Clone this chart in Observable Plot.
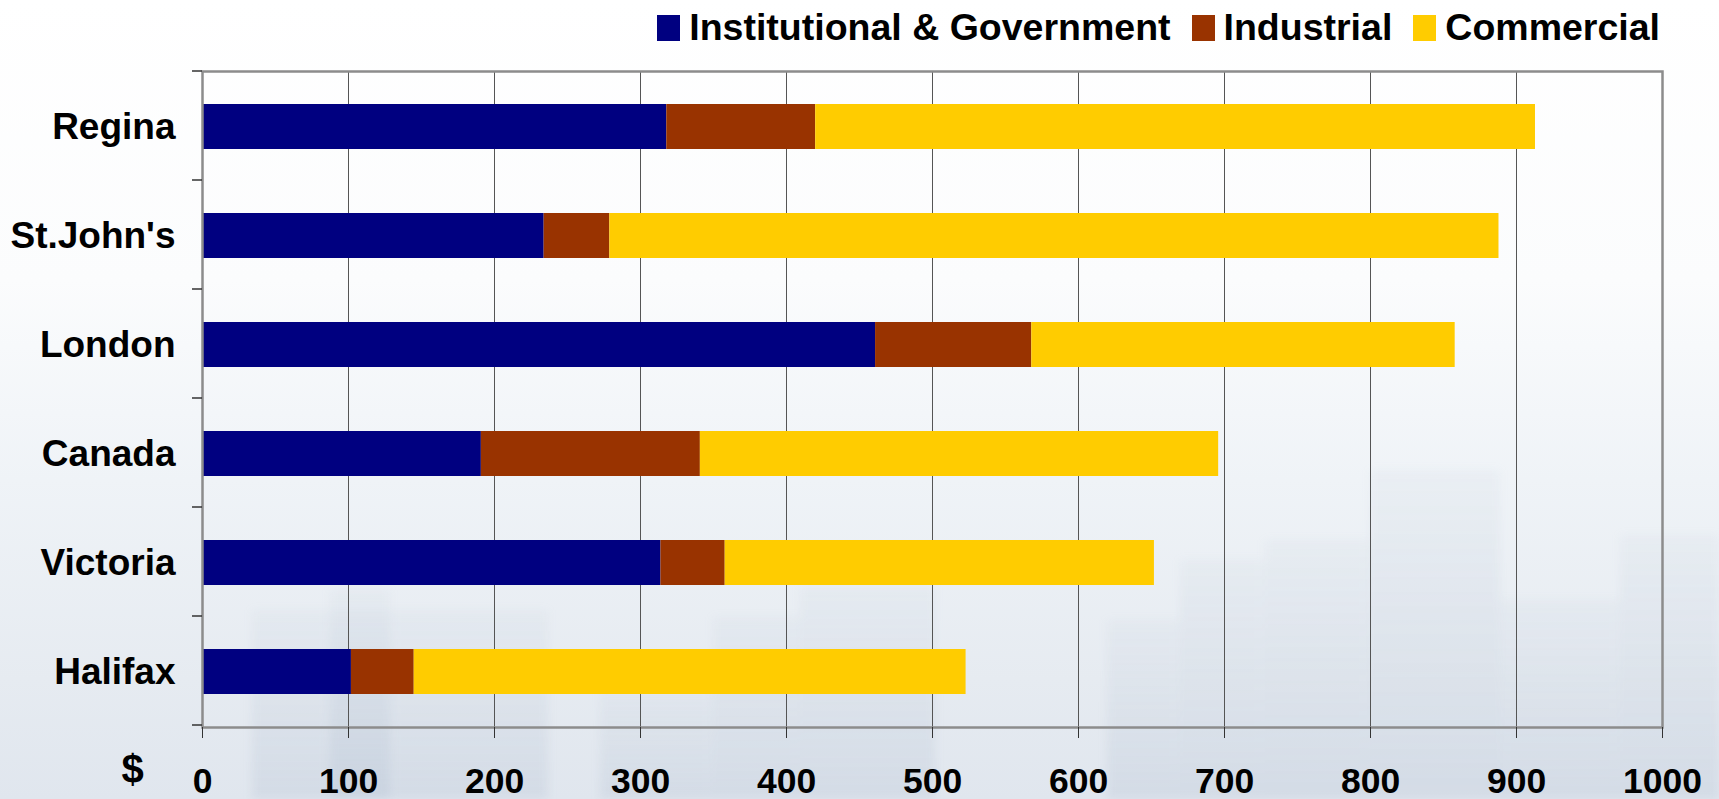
<!DOCTYPE html>
<html><head><meta charset="utf-8">
<script src="https://cdn.jsdelivr.net/npm/d3@7"></script>
<script src="https://cdn.jsdelivr.net/npm/@observablehq/plot@0.6"></script>
<style>
html,body{margin:0;padding:0;}
body{width:1719px;height:799px;overflow:hidden;position:relative;
  background:linear-gradient(to bottom,#ffffff 0%,#fbfcfd 35%,#eff3f7 60%,#e6ebf1 85%,#e0e6ee 100%);
  font-family:"Liberation Sans",Arial,sans-serif;}
#bg{position:absolute;left:0;top:0;width:1719px;height:799px;z-index:0;filter:blur(4px);}
#bg div{position:absolute;bottom:0;background:linear-gradient(to bottom,rgba(170,186,206,0.07),rgba(150,168,192,0.16));}
#legend{position:relative;z-index:1;height:55px;display:flex;justify-content:flex-end;align-items:center;padding-right:59px;
  box-sizing:border-box;font-weight:bold;font-size:37.5px;color:#000;}
.item{display:flex;align-items:center;margin-left:21px;}
.sw{width:23px;height:26px;margin-right:9px;}
#chart{position:relative;z-index:1;}
</style></head><body>
<div id="bg">
  <div style="left:252px;width:296px;height:189px"></div>
  <div style="left:330px;width:60px;height:209px"></div>
  <div style="left:600px;width:113px;height:109px"></div>
  <div style="left:713px;width:87px;height:182px"></div>
  <div style="left:800px;width:135px;height:212px"></div>
  <div style="left:1107px;width:73px;height:179px"></div>
  <div style="left:1180px;width:85px;height:239px"></div>
  <div style="left:1265px;width:105px;height:259px"></div>
  <div style="left:1370px;width:130px;height:329px"></div>
  <div style="left:1500px;width:120px;height:199px"></div>
  <div style="left:1620px;width:99px;height:264px"></div>
</div>
<div id="legend"></div>
<div id="chart"></div>
<script>
// ---- data ----
const cities = ["Regina", "St.John's", "London", "Canada", "Victoria", "Halifax"];
const seriesNames = ["Institutional & Government", "Industrial", "Commercial"];
const seriesColors = ["#000080", "#993300", "#FFCC00"];
const institutional = [318, 234, 461, 191, 314, 102];
const industrial = [102, 45, 107, 150, 44, 43];
const commercial = [493, 609, 290, 355, 294, 378];
const xTicks = [0, 100, 200, 300, 400, 500, 600, 700, 800, 900, 1000];
const xUnit = "$";

const seriesValues = [institutional, industrial, commercial];
const rows = [];
seriesNames.forEach((s, si) => cities.forEach((c, ci) => rows.push({city: c, series: s, value: seriesValues[si][ci]})));

// legend
const legend = document.getElementById("legend");
seriesNames.forEach((s, i) => {
  const it = document.createElement("div"); it.className = "item";
  const sw = document.createElement("div"); sw.className = "sw"; sw.style.background = seriesColors[i];
  const tx = document.createElement("span"); tx.textContent = s;
  it.appendChild(sw); it.appendChild(tx); legend.appendChild(it);
});

const font = "'Liberation Sans', Arial, sans-serif";
const chart = Plot.plot({
  width: 1719, height: 744,
  marginTop: 16, marginBottom: 72, marginLeft: 202, marginRight: 57,
  style: {background: "transparent", fontFamily: font, fontWeight: "bold", color: "#000", overflow: "visible"},
  x: {domain: [0, 1000], ticks: xTicks},
  y: {domain: cities, paddingInner: 0.59, paddingOuter: 0.295},
  color: {domain: seriesNames, range: seriesColors},
  marks: [
    Plot.ruleX(xTicks.filter(v => v > 0 && v < 1000), {stroke: "#555", strokeWidth: 1}),
    Plot.barX(rows, Plot.stackX({y: "city", x: "value", fill: "series"})),
    Plot.frame({stroke: "#8c8c8c", strokeWidth: 2.5}),
    Plot.axisX({ticks: xTicks, tickSize: 11, tickPadding: 29, fontSize: 35.5, fontWeight: "bold", label: null, stroke: "#333", tickFormat: d => String(d)}),
    Plot.axisY({tickSize: 0, tickPadding: 27, fontSize: 37, fontWeight: "bold", label: null}),
    Plot.text([xUnit], {text: d => d, frameAnchor: "bottom-left", textAnchor: "middle", dx: -70, dy: 55, fontSize: 40, fontWeight: "bold", fill: "#000"})
  ]
});
document.getElementById("chart").appendChild(chart);

// small y ticks at band boundaries
const ys = chart.scale("y"), xs = chart.scale("x");
const r0 = Math.min(...ys.range), r1 = Math.max(...ys.range);
const step = ys.step || (r1 - r0) / cities.length;
const x0 = xs.apply(0);
const g = d3.select(chart).append("g").attr("stroke", "#333").attr("stroke-width", 1.5);
for (let i = 0; i <= cities.length; i++) {
  const y = r0 + i * step;
  g.append("line").attr("x1", x0 - 10).attr("x2", x0).attr("y1", y).attr("y2", y);
}
</script>
</body></html>
